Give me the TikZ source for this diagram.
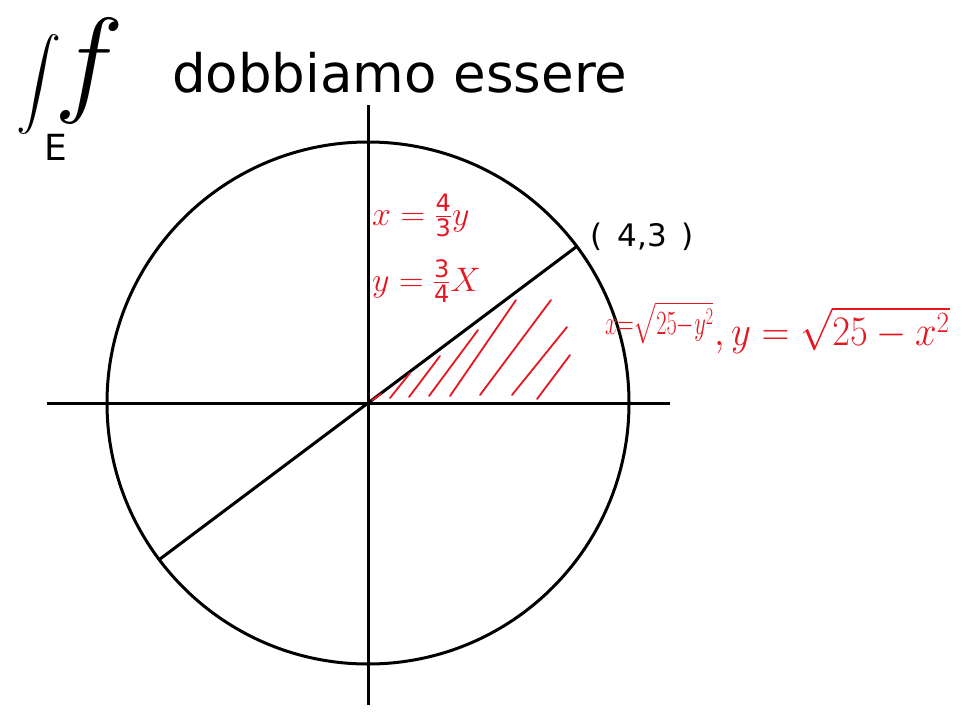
\RequirePackage{fix-cm}
\documentclass[tikz,border=0pt]{standalone}
\usepackage{fontspec}
\setmainfont{DejaVu Sans}
\usepackage{amsmath}
\usepackage{graphicx}
\DeclareFontShape{OMX}{cmex}{m}{n}{<->cmex10}{}
\usetikzlibrary{calc}
\definecolor{pen}{RGB}{230,22,32}
\newcommand{\dg}[1]{\text{\fontsize{24}{24}\selectfont #1}}
\begin{document}
\begin{tikzpicture}[x=1pt,y=-1pt,
  axis/.style={line width=3pt,black},
  hatch/.style={line width=1.8pt,pen,line cap=round},
  redtxt/.style={pen,inner sep=0pt,anchor=base west},
  blacktxt/.style={black,inner sep=0pt,anchor=base west}]
\useasboundingbox (0,0) rectangle (977,712);
% axes
\coordinate (O) at (368,403);
\coordinate (xl) at (47,403);
\coordinate (xr) at (670,403);
\coordinate (yt) at (368,105);
\coordinate (yb) at (368,705);
\draw[axis] (xl) -- (xr);
\draw[axis] (yt) -- (yb);
% circle
\draw[axis] (O) circle[radius=261];
% line y = 3/4 x
\coordinate (P) at ($(O)+(208.8,-156.6)$);
\coordinate (Q) at ($(O)+(-208.8,156.6)$);
\draw[axis] (Q) -- (P);
% hatching
\draw[hatch] (372,400) -- (381,394);
\draw[hatch] (390,398) -- (410,373);
\draw[hatch] (409,397) -- (440,356);
\draw[hatch] (429,396) -- (478,330);
\draw[hatch] (450,396) -- (516,300);
\draw[hatch] (480,395) -- (551,300);
\draw[hatch] (512,395) -- (567,327);
\draw[hatch] (537,399) -- (570,355);
% title
\node[blacktxt] (int) at (16,96) {\fontsize{45}{50}\selectfont$\displaystyle\int$};
\node[blacktxt] (E) at (44,160) {\fontsize{36}{40}\selectfont E};
\node[blacktxt] (f) at (54,100) {\fontsize{118}{118}\selectfont$f$};
\node[blacktxt] (title) at (172,92) {\fontsize{53}{58}\selectfont dobbiamo essere};
% labels
\node[blacktxt] (pt) at (590,246) {\fontsize{31}{34}\selectfont (\hspace{0.5em}4,3\hspace{0.45em})};
\node[redtxt] (l1) at (372,225) {\fontsize{34}{38}\selectfont $x=\genfrac{}{}{}{1}{\dg{4}}{\dg{3}}y$};
\node[redtxt] (l2) at (372,291) {\fontsize{34}{38}\selectfont $y=\genfrac{}{}{}{1}{\dg{3}}{\dg{4}}X$};
\node[redtxt] (l3) at (605,334) {\scalebox{0.66}[1]{\fontsize{34}{38}\selectfont $x{=}\sqrt{25{-}y^2}$}};
\node[redtxt] (l4) at (714,345) {\scalebox{0.92}[1]{\fontsize{42}{46}\selectfont $,y=\sqrt{25-x^2}$}};
\end{tikzpicture}
\end{document}
